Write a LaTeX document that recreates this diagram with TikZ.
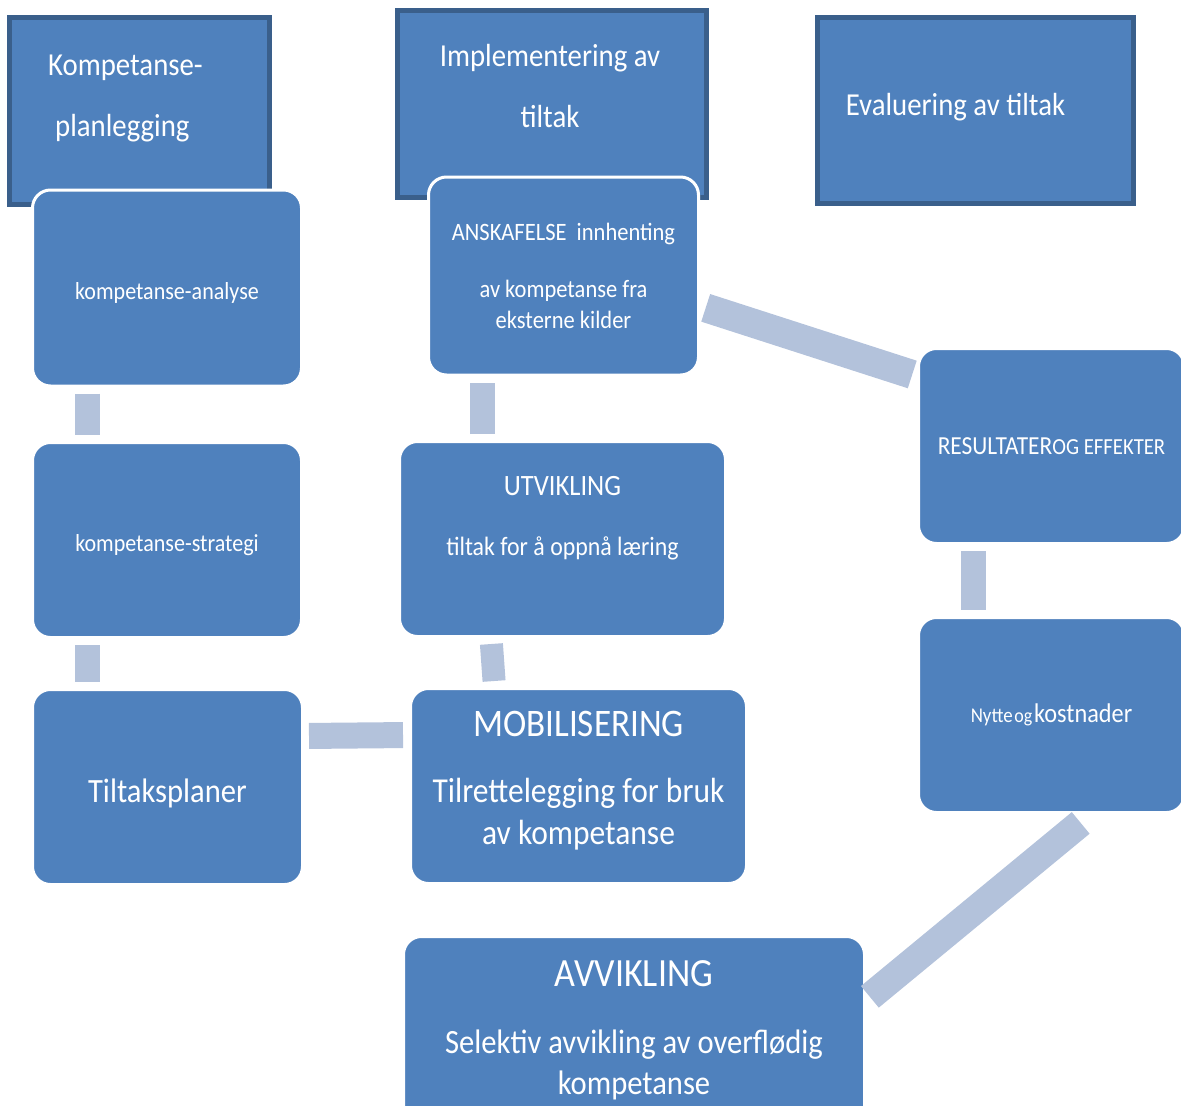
\documentclass[tikz,border=0pt]{standalone}
\usepackage{fontspec}
\setmainfont{Carlito}[FakeStretch=0.9]
\usetikzlibrary{positioning}
\definecolor{boxfill}{HTML}{4F81BD}
\definecolor{boxline}{HTML}{3A5F8B}
\definecolor{barfill}{HTML}{B3C2DB}
\newcommand{\fsz}[2]{\fontsize{#1}{#2}\selectfont}
\tikzset{
  hdr/.style={draw=boxline, line width=5pt, fill=boxfill, inner sep=0pt},
  hdrtxt/.style={text=white, font=\fsz{32}{61}, inner sep=0pt},
  phase/.style={draw=white, line width=3pt, fill=boxfill, rounded corners=18pt,
                text=white, align=center, inner sep=4pt},
  bar/.style={draw=barfill, line width=25pt, shorten <=6pt, shorten >=6pt},
}
\begin{document}
\begin{tikzpicture}[x=1pt, y=-1pt]
  \useasboundingbox (0,0) rectangle (1181,1106);
  \clip (0,0) rectangle (1181,1106);
  % phase headers
  \node[hdr, minimum width=260pt, minimum height=187pt,
        label={[hdrtxt, align=left, xshift=-14pt, yshift=12pt]center:{Kompetanse-\\\hspace*{7pt}planlegging}}] (plan) at (139.5,110.5) {};
  \node[hdr, minimum width=309pt, minimum height=187pt,
        label={[hdrtxt, align=center, xshift=-2pt, yshift=18pt]center:{Implementering av\\tiltak}}] (impl) at (552,104) {};
  \node[hdr, minimum width=316pt, minimum height=186pt,
        label={[hdrtxt, xshift=-20pt, yshift=3pt]center:{Evaluering av tiltak}}] (eval) at (975.5,110.5) {};
  % planning column
  \node[phase, minimum width=269pt, minimum height=196pt, font=\fsz{24.5}{30},
        text height=28pt, text depth=5pt] (analyse) at (167,288) {kompetanse-analyse};
  \node[phase, minimum width=269pt, minimum height=195pt, font=\fsz{24.5}{30},
        text height=28pt, text depth=5pt] (strategi) at (167,540) {kompetanse-strategi};
  \node[phase, minimum width=270pt, minimum height=195pt, font=\fsz{34}{41},
        text height=38pt, text depth=7pt] (tiltak) at (167.5,787) {Tiltaksplaner};
  % implementation column
  \node[phase, minimum width=270pt, minimum height=198pt, font=\fsz{25}{31}] (anskaf) at (563.5,276)
    {ANSKAFELSE\ \ innhenting\\[26pt]av kompetanse fra\\eksterne kilder};
  \node[phase, minimum width=326pt, minimum height=195pt, font=\fsz{26.5}{33}] (utvikling) at (562.5,539)
    {{\fsz{29.5}{33}UTVIKLING}\\[27pt]tiltak for å oppnå læring\\[14pt]\mbox{}};
  \node[phase, minimum width=336pt, minimum height=195pt, font=\fsz{35}{42}] (mobil) at (578.5,786)
    {{\fsz{39}{42}MOBILISERING}\\[24pt]Tilrettelegging for bruk\\av kompetanse\\[-25pt]\mbox{}};
  % evaluation column
  \node[phase, minimum width=266pt, minimum height=195pt] (resultat) at (1051.5,446)
    {{\fsz{26}{30}RESULTATER}{\fsz{23}{30}OG EFFEKTER}};
  \node[phase, minimum width=266pt, minimum height=195pt] (nytte) at (1051.5,715)
    {{\fsz{21}{30}Nytte}\,{\fsz{20}{30}og}\,{\fsz{27}{30}kostnader}};
  \node[phase, minimum width=461pt, minimum height=195pt, font=\fsz{34}{41}] (avvik) at (634,1034)
    {{\fsz{40}{41}AVVIKLING}\\[26pt]Selektiv avvikling av overflødig\\kompetanse\\[-28pt]\mbox{}};
  % connectors
  \draw[bar] ([xshift=-80pt]analyse.south) -- ([xshift=-80pt]strategi.north);
  \draw[bar] ([xshift=-80pt]strategi.south) -- ([xshift=-80.5pt]tiltak.north);
  \draw[bar, line width=26pt, shorten <=5pt] ([yshift=51pt]tiltak.east) -- ([yshift=51pt]mobil.west);
  \draw[bar, line width=23pt] ([xshift=-84pt]mobil.north) -- ([xshift=-71.5pt]utvikling.south);
  \draw[bar] ([xshift=-80pt]utvikling.north) -- ([xshift=-81pt]anskaf.south);
  \draw[bar, line width=29pt, shorten >=5pt] ([yshift=-30pt]anskaf.east) -- ([yshift=70pt]resultat.west);
  \draw[bar] ([xshift=-78pt]resultat.south) -- ([xshift=-78pt]nytte.north);
  \draw[bar, line width=28pt, shorten <=14pt, shorten >=5pt] ([xshift=40pt]nytte.south) -- ([yshift=34pt]avvik.east);
\end{tikzpicture}
\end{document}
